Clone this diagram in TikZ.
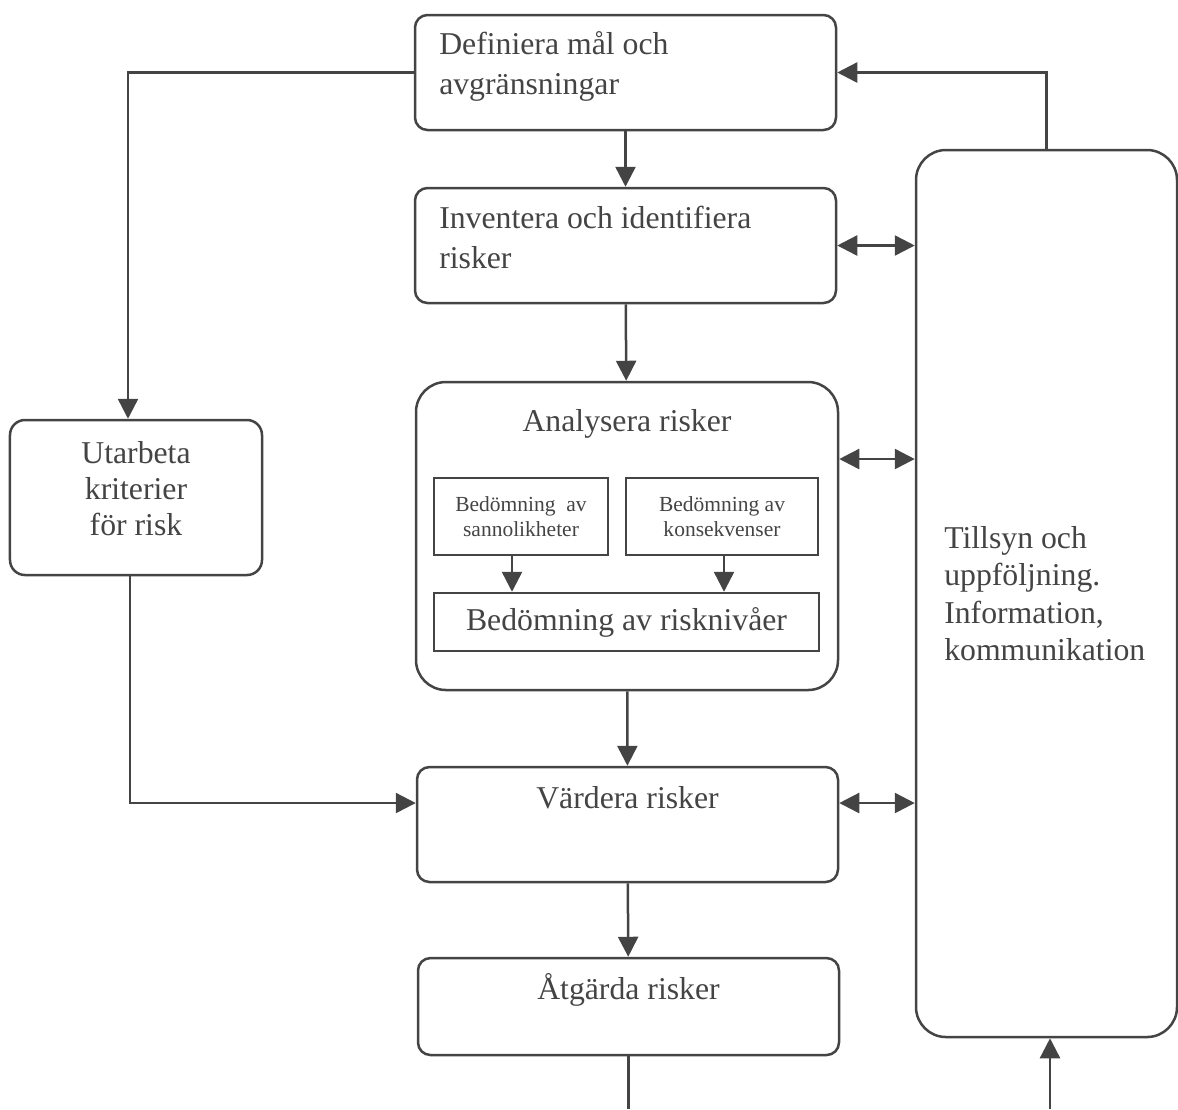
\documentclass[tikz,border=0pt]{standalone}
\usepackage{fontspec}
\setmainfont{Liberation Serif}
\usetikzlibrary{arrows.meta}

\definecolor{ink}{RGB}{68,68,68}

\tikzset{
  box/.style={draw=ink, line width=1pt, rounded corners=5pt, inner sep=0pt},
  flat/.style={draw=ink, line width=1pt, inner sep=0pt},
  txt/.style={text=ink, font=\fontsize{12.7}{16}\selectfont},
  small/.style={text=ink, font=\fontsize{8.6}{10}\selectfont, align=center},
  arr/.style={draw=ink, line width=1pt, -{Triangle[length=8pt,width=8pt]}},
  dbl/.style={draw=ink, line width=1pt, {Triangle[length=8pt,width=8pt]}-{Triangle[length=8pt,width=8pt]}},
  line/.style={draw=ink, line width=1pt}
}

\begin{document}
\begin{tikzpicture}[x=0.4pt, y=-0.4pt]
        \useasboundingbox (0,0) rectangle (1178,1109);

        % Main chain
        \node[box, minimum width=168.4pt, minimum height=46pt] (definiera) at (625.5,72.5) {};
        \node[box, minimum width=168.4pt, minimum height=46pt] (inventera) at (625.5,245.5) {};
        \node[box, rounded corners=12pt, minimum width=168.8pt, minimum height=123.2pt] (analysera) at (627,536) {};
        \node[box, minimum width=168.4pt, minimum height=46pt] (vardera) at (627.5,824.5) {};
        \node[box, minimum width=168.4pt, minimum height=38.8pt] (atgarda) at (628.5,1006.5) {};

        % Box texts
        \node[txt, anchor=west, align=left, inner sep=0pt] (definiera-txt) at ([xshift=10pt,yshift=2.4pt]definiera.west) {Definiera mål och\\avgränsningar};
        \node[txt, anchor=west, align=left, inner sep=0pt] (inventera-txt) at ([xshift=10pt,yshift=3.4pt]inventera.west) {Inventera och identifiera\\risker};
        \node[txt] (analysera-txt) at ([yshift=-17.2pt]analysera.north) {Analysera risker};
        \node[txt] (vardera-txt) at ([yshift=-12.6pt]vardera.north) {Värdera risker};
        \node[txt] (atgarda-txt) at ([yshift=-13.4pt]atgarda.north) {Åtgärda risker};

        % Inside the analysis
        \node[flat, small, minimum width=69.6pt, minimum height=30.8pt] (sannolikhet) at (521,516.5) {Bedömning \ av\\sannolikheter};
        \node[flat, small, minimum width=76.8pt, minimum height=30.8pt] (konsekvens) at (722,516.5) {Bedömning av\\konsekvenser};
        \node[flat, txt, minimum width=154pt, minimum height=23.2pt] (risknivaer) at (626.5,622) {Bedömning av risknivåer};
        \draw[arr] ([xshift=-3.6pt]sannolikhet.south) -- ([xshift=-3.6pt]sannolikhet.south |- risknivaer.north);
        \draw[arr] ([xshift=0.8pt]konsekvens.south) -- ([xshift=0.8pt]konsekvens.south |- risknivaer.north);

        % Side boxes
        \node[box, rounded corners=6pt, minimum width=100.8pt, minimum height=62pt] (utarbeta) at (136,497.5) {};
        \node[txt, align=center, font=\fontsize{12.7}{14.4}\selectfont] (utarbeta-txt) at ([yshift=3.4pt]utarbeta.center) {Utarbeta\\kriterier\\för risk};
        \node[box, rounded corners=12pt, minimum width=104.4pt, minimum height=354.8pt] (tillsyn) at (1046.5,593.5) {};
        \node[txt, anchor=west, align=left, inner sep=0pt, font=\fontsize{12.7}{15}\selectfont] (tillsyn-txt) at ([xshift=11.6pt]tillsyn.west) {Tillsyn och\\uppföljning.\\Information,\\kommunikation};

        % Down the chain
        \draw[arr] (definiera) -- (inventera);
        \draw[arr] (inventera) -- (analysera);
        \draw[arr] (analysera) -- (vardera);
        \draw[arr] (vardera) -- (atgarda);
        \coordinate (ut) at (628.5,1109);
        \draw[line] (atgarda.south) -- (ut);

        % Criteria loop
        \draw[arr] (definiera.west) -| ([xshift=-3.2pt]utarbeta.north);
        \draw[arr] ([xshift=-2.4pt]utarbeta.south) |- ([yshift=8.6pt]vardera.west);

        % Supervision links
        \draw[arr] (tillsyn.north) |- (definiera.east);
        \draw[dbl] (inventera.east) -- (inventera.east -| tillsyn.west);
        \draw[dbl] ([yshift=30.8pt]analysera.east) coordinate (a1) -- (a1 -| tillsyn.west);
        \draw[dbl] ([yshift=8.6pt]vardera.east) coordinate (v1) -- (v1 -| tillsyn.west);
        \coordinate (in) at (1050,1109);
        \draw[arr] (in) -- (in |- tillsyn.south);
    \end{tikzpicture}
\end{document}
